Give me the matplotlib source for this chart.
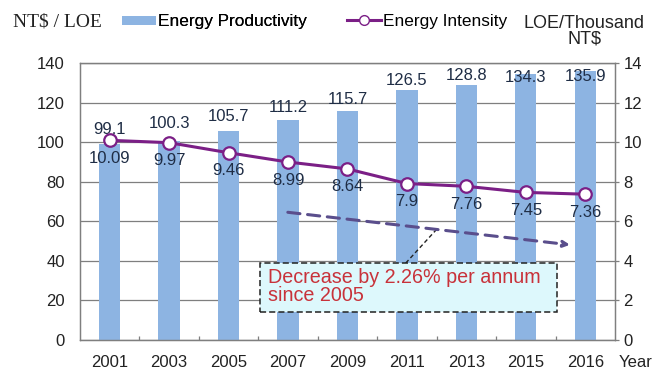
import numpy as np
import matplotlib.pyplot as plt
from matplotlib.patches import Patch, Rectangle
from matplotlib.lines import Line2D

plt.rcParams['font.family'] = ['Liberation Sans', 'DejaVu Sans']

years = ['2001', '2003', '2005', '2007', '2009', '2011', '2013', '2015', '2016']
productivity = [99.1, 100.3, 105.7, 111.2, 115.7, 126.5, 128.8, 134.3, 135.9]
intensity = [10.09, 9.97, 9.46, 8.99, 8.64, 7.9, 7.76, 7.45, 7.36]

# label nudges above the bar tops, in points
prod_offsets = [10, 13, 10, 9, 8, 7, 7, -2, -4]

bar_color = '#8db4e2'
line_color = '#7b1f86'
label_color = '#1f2d45'
text_color = '#222222'

fig = plt.figure(figsize=(6.54, 3.71), dpi=100)
ax = fig.add_axes([0.1223, 0.0849, 0.818, 0.745])
ax2 = ax.twinx()

x = np.arange(len(years))
ax.bar(x, productivity, width=0.36, color=bar_color, zorder=2)
ax.set_xlim(-0.5, len(years) - 0.5)
ax.set_ylim(0, 140)
ax.set_yticks(range(0, 141, 20))
ax.grid(axis='y', color='#7f7f7f', linewidth=0.9, zorder=0)
ax.set_axisbelow(True)
ax.set_xticks(x)
ax.set_xticklabels(years)
ax.set_xticks(x[:-1] + 0.5, minor=True)
ax.tick_params(axis='both', length=0, labelsize=12, colors=text_color)
ax.tick_params(axis='x', pad=11)
ax.tick_params(axis='x', which='minor', direction='in', length=3, width=0.9,
               color='#7f7f7f')
ax.tick_params(axis='y', pad=11)

for xi, v, off in zip(x, productivity, prod_offsets):
    ax.annotate(f'{v}', (xi, v), xytext=(0, off), textcoords='offset points',
                ha='center', va='center', fontsize=12, color=label_color, zorder=5)

ax2.plot(x, intensity, color=line_color, linewidth=2.2, marker='o',
         markersize=9, markerfacecolor='white', markeredgecolor=line_color,
         markeredgewidth=1.6, zorder=4)
ax2.set_ylim(0, 14)
ax2.set_yticks(range(0, 15, 2))
ax2.tick_params(axis='y', length=3, width=0.9, color='#7f7f7f', labelsize=12,
                labelcolor=text_color, pad=3)
for xi, v in zip(x, intensity):
    ax2.annotate(f'{v}', (xi, v), xytext=(0, -13), textcoords='offset points',
                 ha='center', va='center', fontsize=12, color=label_color, zorder=5)

for a in (ax, ax2):
    for s in a.spines.values():
        s.set_color('#7f7f7f')
        s.set_linewidth(0.9)

# trend arrow and callout
ax2.annotate('', xy=(7.79, 4.78), xytext=(2.95, 6.46),
             arrowprops=dict(arrowstyle='-|>', color='#5a4e8c', lw=2.2,
                             linestyle=(0, (4, 2.5)), mutation_scale=9))
ax2.plot([4.98, 5.5], [3.87, 5.58], color=text_color, lw=1, linestyle=(0, (3, 2)))
ax2.add_patch(Rectangle((2.53, 1.39), 4.99, 2.48, facecolor='#ddf8fc',
                        edgecolor=text_color, linestyle=(0, (4, 2)), linewidth=1.1,
                        zorder=6))
ax2.text(2.66, 2.68, 'Decrease by 2.26% per annum\nsince 2005', fontsize=14.2,
         color='#c8323a', ha='left', va='center', linespacing=0.88, zorder=7)

fig.text(0.02, 0.941, 'NT$ / LOE', family='Liberation Serif', fontsize=14,
         ha='left', va='center', color=text_color)
fig.text(0.893, 0.916, 'LOE/Thousand\nNT$', fontsize=13, ha='center', va='center',
         color=text_color, linespacing=0.9)
fig.text(0.998, 0.022, 'Year', fontsize=12, ha='right', va='center', color=text_color)

leg1 = fig.legend(handles=[Patch(facecolor=bar_color, label='Energy Productivity')],
                  loc='center left', bbox_to_anchor=(122 / 654, 0.941), frameon=False,
                  fontsize=12.4, handlelength=2.0, handleheight=0.45,
                  handletextpad=0.1, borderpad=0, borderaxespad=0)
fig.add_artist(leg1)
line_handle = Line2D([], [], color=line_color, lw=2.2, marker='o', markersize=7,
                     markerfacecolor='white', markeredgecolor=line_color,
                     label='Energy Intensity')
fig.legend(handles=[line_handle], loc='center left', bbox_to_anchor=(347 / 654, 0.941),
           frameon=False, fontsize=12.4, handlelength=2.0, handletextpad=0.1,
           borderpad=0, borderaxespad=0)

fig.savefig('out.png', dpi=100)
